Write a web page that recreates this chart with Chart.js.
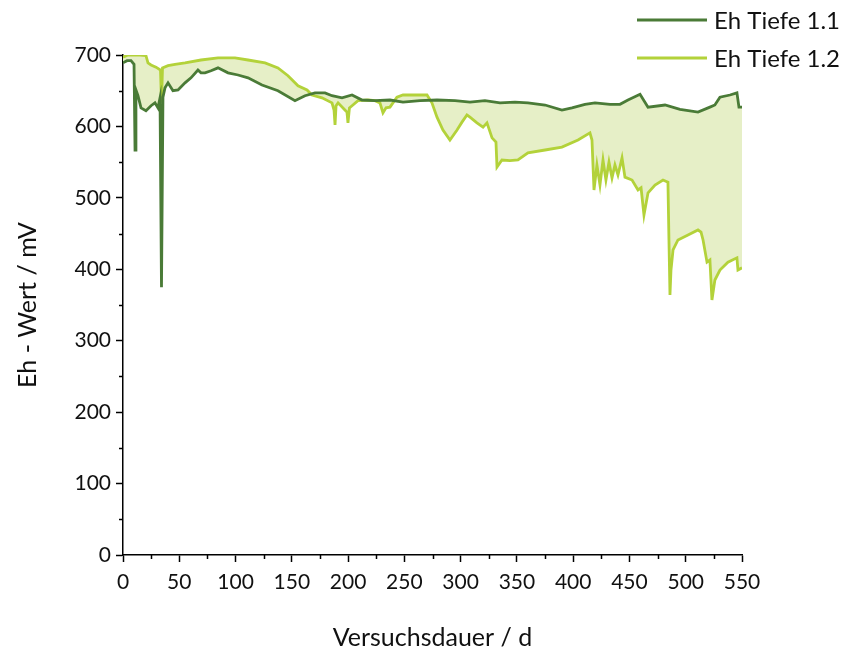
<!DOCTYPE html>
<html>
<head>
<meta charset="utf-8">
<script src="https://cdn.jsdelivr.net/npm/chart.js@4.4.1/dist/chart.umd.min.js"></script>
<style>
  html, body { margin: 0; padding: 0; background: #ffffff; }
  #wrap { width: 851px; height: 650px; position: relative; }
</style>
</head>
<body>
<div id="wrap"><canvas id="chart" width="851" height="650"></canvas></div>
<script>
// Eh Tiefe 1.1 — test duration (d) and redox potential (mV)
const daysTiefe11 = [0, 3.6, 7.1, 9.8, 10.7, 11.5, 13.3, 16.0, 20.4, 24.9, 28.4, 31.1, 32.9, 34.2, 35.5,
  37.3, 40.0, 44.4, 48.9, 55.1, 60.4, 66.6, 69.3, 72.9, 78.2, 84.4, 93.3, 102.2, 111.1, 123.5,
  137.7, 152.8, 161.7, 170.6, 179.5, 185.7, 194.6, 203.5, 212.4, 223.9, 237.2, 248.8, 263.9,
  279.0, 295.0, 308.3, 321.6, 335.0, 348.3, 359.8, 375.0, 390.0, 398.9, 410.5, 419.4, 432.7,
  441.6, 448.7, 459.4, 466.5, 481.6, 494.9, 510.9, 521.5, 525.9, 530.4, 539.3, 545.5, 547.3, 550];
const ehTiefe11 = [689, 692, 692, 687, 567, 651, 643, 626, 622, 629, 633, 626, 640, 375, 641,
  654, 661, 650, 651, 661, 668, 679, 675, 675, 678, 682, 675, 672, 668, 658,
  650, 636, 643, 647, 647, 643, 640, 644, 637, 636, 637, 634, 636,
  637, 636, 634, 636, 633, 634, 633, 630, 623, 626, 631, 633, 631,
  631, 637, 645, 627, 630, 624, 620, 627, 630, 641, 644, 647, 627, 627];

// Eh Tiefe 1.2 — test duration (d) and redox potential (mV)
const daysTiefe12 = [0, 4.4, 15.1, 20.4, 22.2, 24.9, 29.3, 33.3, 34.2, 35.1, 40.0, 46.2, 55.1, 69.3,
  84.4, 99.5, 111.1, 126.2, 137.7, 146.6, 155.5, 163.5, 167.9, 176.8, 185.7, 187.5, 188.4, 189.3,
  191.1, 197.2, 199.0, 199.9, 201.2, 203.5, 208.8, 217.7, 223.9, 228.3, 231.0, 233.7, 237.2,
  243.4, 248.8, 259.4, 270.1, 274.5, 279.0, 284.3, 290.5, 296.8, 301.2, 305.6, 308.3, 314.5,
  319.9, 323.4, 327.9, 331.4, 332.3, 336.7, 343.8, 350.9, 359.8, 375.0, 390.0, 404.3, 414.9,
  416.7, 418.5, 421.1, 423.8, 426.5, 429.1, 431.8, 434.5, 437.1, 439.8, 443.4, 446.0, 452.3,
  457.6, 460.3, 462.9, 466.5, 472.7, 479.8, 484.2, 485.1, 486.0, 486.9, 488.7, 493.1, 502.0,
  510.9, 513.6, 515.4, 518.9, 521.5, 523.3, 525.9, 530.4, 537.5, 545.5, 546.4, 550];
const ehTiefe12 = [697, 700, 700, 699, 689, 686, 683, 679, 634, 682, 685, 687, 689, 693,
  696, 696, 693, 689, 682, 671, 657, 651, 644, 640, 633, 623, 602, 629,
  633, 623, 620, 605, 626, 629, 636, 637, 636, 633, 619, 626, 627,
  641, 644, 644, 644, 633, 613, 595, 581, 595, 606, 616, 613, 605,
  599, 605, 584, 578, 543, 553, 552, 553, 563, 567, 571, 581, 591,
  581, 511, 546, 518, 553, 525, 550, 528, 546, 532, 556, 529, 525,
  511, 514, 476, 507, 518, 525, 522, 441, 364, 399, 427, 441, 448,
  455, 452, 441, 410, 413, 357, 385, 399, 410, 416, 399, 402];

// Axis tick values
const xTicks = [0, 50, 100, 150, 200, 250, 300, 350, 400, 450, 500, 550];
const yTicks = [0, 100, 200, 300, 400, 500, 600, 700];
const xMinorTicks = [25, 75, 125, 175, 225, 275, 325, 375, 425, 475, 525];
const yMinorTicks = [50, 150, 250, 350, 450, 550, 650];

const seriesLabels = ['Eh Tiefe 1.1', 'Eh Tiefe 1.2'];
const FONT = 'Lato, "Open Sans", sans-serif';
const TEXT = '#111111';

const toPoints = (xs, ys) => xs.map((x, i) => ({ x: x, y: ys[i] }));

// Minor tick marks on both axes, placed through the chart's own scales
const minorTicks = {
  id: 'minorTicks',
  afterDraw(chart) {
    const { ctx, scales: { x, y } } = chart;
    ctx.save();
    ctx.strokeStyle = '#000';
    ctx.lineWidth = 1.5;
    ctx.beginPath();
    xMinorTicks.forEach(v => {
      const px = Math.round(x.getPixelForValue(v)) + 0.5;
      ctx.moveTo(px, y.bottom);
      ctx.lineTo(px, y.bottom + 4);
    });
    yMinorTicks.forEach(v => {
      const py = Math.round(y.getPixelForValue(v)) + 0.5;
      ctx.moveTo(x.left, py);
      ctx.lineTo(x.left - 4, py);
    });
    ctx.stroke();
    ctx.restore();
  }
};

// Legend in the upper right corner, outside the plot area
const cornerLegend = {
  id: 'cornerLegend',
  afterDraw(chart) {
    const { ctx } = chart;
    ctx.save();
    ctx.font = '24px ' + FONT;
    ctx.textBaseline = 'middle';
    ctx.textAlign = 'left';
    chart.data.datasets.forEach((ds, i) => {
      const yy = 20 + i * 38;
      ctx.strokeStyle = ds.borderColor;
      ctx.lineWidth = 3;
      ctx.beginPath();
      ctx.moveTo(637, yy);
      ctx.lineTo(707, yy);
      ctx.stroke();
      ctx.fillStyle = TEXT;
      ctx.fillText(ds.label, 714, yy + 1);
    });
    ctx.restore();
  }
};

new Chart(document.getElementById('chart'), {
  type: 'line',
  data: {
    datasets: [
      {
        label: seriesLabels[0],
        data: toPoints(daysTiefe11, ehTiefe11),
        borderColor: '#4a7b37',
        borderWidth: 2.8,
        pointRadius: 0,
        tension: 0,
        fill: false
      },
      {
        label: seriesLabels[1],
        data: toPoints(daysTiefe12, ehTiefe12),
        borderColor: '#b3d23a',
        backgroundColor: '#e6efc7',
        borderWidth: 2.8,
        pointRadius: 0,
        tension: 0,
        fill: '-1'
      }
    ]
  },
  options: {
    responsive: false,
    animation: false,
    layout: { padding: { left: 0, top: 55, right: 109, bottom: 0 } },
    plugins: {
      legend: { display: false },
      tooltip: { enabled: false },
      filler: { drawTime: 'beforeDatasetsDraw' }
    },
    scales: {
      x: {
        type: 'linear',
        min: 0,
        max: 550,
        afterFit(scale) { scale.height = 95; },
        afterBuildTicks(scale) { scale.ticks = xTicks.map(v => ({ value: v })); },
        border: { color: '#000', width: 1.5 },
        grid: { display: true, drawOnChartArea: false, drawTicks: true, tickLength: 7, tickColor: '#000', tickWidth: 1.5 },
        ticks: { color: TEXT, font: { family: FONT, size: 21 }, padding: 8, maxRotation: 0 },
        title: {
          display: true,
          text: 'Versuchsdauer / d',
          color: TEXT,
          font: { family: FONT, size: 25, lineHeight: 1.0 },
          padding: { top: 0, bottom: 0 }
        }
      },
      y: {
        type: 'linear',
        min: 0,
        max: 700,
        afterFit(scale) { scale.width = 123; },
        afterBuildTicks(scale) { scale.ticks = yTicks.map(v => ({ value: v })); },
        border: { color: '#000', width: 1.5 },
        grid: { display: true, drawOnChartArea: false, drawTicks: true, tickLength: 7, tickColor: '#000', tickWidth: 1.5 },
        ticks: { color: TEXT, font: { family: FONT, size: 21 }, padding: 5 },
        title: {
          display: true,
          text: 'Eh - Wert / mV',
          color: TEXT,
          font: { family: FONT, size: 25, lineHeight: 1.0 },
          padding: { top: 15, bottom: 0 }
        }
      }
    }
  },
  plugins: [minorTicks, cornerLegend]
});
</script>
</body>
</html>
